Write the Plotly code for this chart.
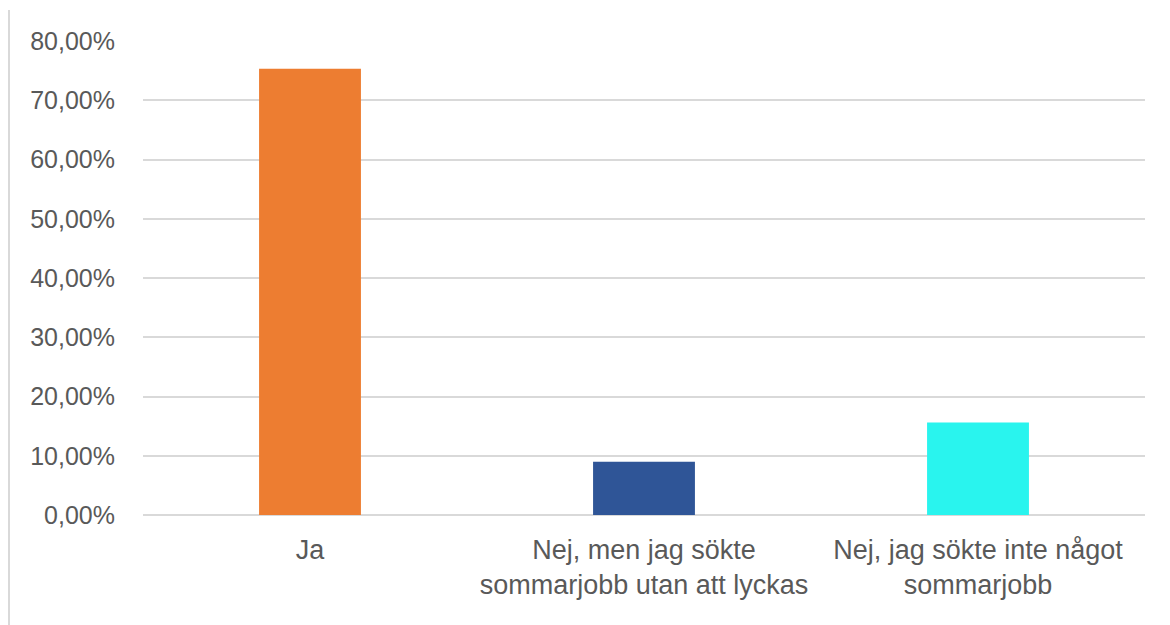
import plotly.graph_objects as go

categories = ["Ja", "Nej, men jag sökte<br>sommarjobb utan att lyckas", "Nej, jag sökte inte något<br>sommarjobb"]
values = [0.753, 0.090, 0.156]
colors = ["#ED7D31", "#2F5597", "#29F4EE"]
ytick_vals = [0, 0.1, 0.2, 0.3, 0.4, 0.5, 0.6, 0.7, 0.8]

# page body has an 8px margin, so the figure is sized/offset to compensate
W, H = 1162, 617
ml, mr, mt, mb = 135, 25, 33, 110

fig = go.Figure(go.Bar(
    x=categories, y=values,
    marker=dict(color=colors, line=dict(width=0)),
    width=0.305, hoverinfo="skip",
))

pw = W - ml - mr
ph = H - mt - mb
fig.add_shape(type="line", xref="paper", yref="paper",
              x0=(1 - ml) / pw, x1=(1 - ml) / pw,
              y0=(H - mb - 2) / ph, y1=(H - mb - H) / ph,
              line=dict(color="#D9D9D9", width=2))

fig.update_layout(
    width=W, height=H,
    margin=dict(l=ml, r=mr, t=mt, b=mb),
    plot_bgcolor="white", paper_bgcolor="white",
    separators=",.",
    showlegend=False,
    font=dict(family="Liberation Sans", color="#595959", size=25),
    xaxis=dict(showgrid=False, showline=False, ticks="", tickfont=dict(size=27, color="#595959"),
               ticklabelstandoff=16),
    yaxis=dict(range=[0, 0.8], tickvals=ytick_vals, tickformat=".2%",
               showgrid=True, gridcolor="#D9D9D9", gridwidth=1.5,
               zeroline=True, zerolinecolor="#D9D9D9", zerolinewidth=1.5,
               showline=False, ticks="", tickfont=dict(size=25, color="#595959"),
               ticklabelstandoff=27),
)

fig.write_html("out.html")
